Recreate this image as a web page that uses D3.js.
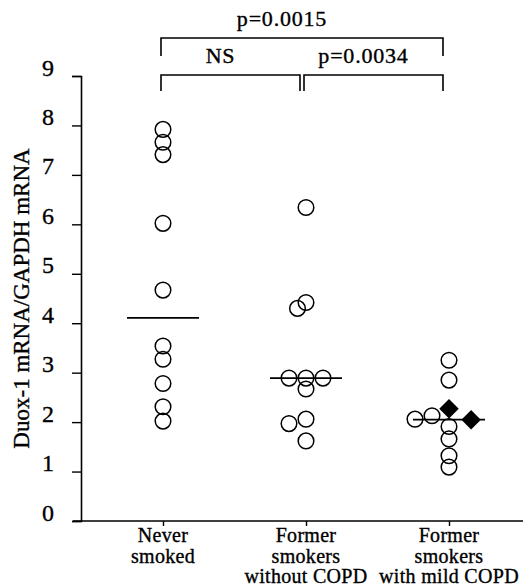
<!DOCTYPE html>
<html>
<head>
<meta charset="utf-8">
<script src="https://cdn.jsdelivr.net/npm/d3@7"></script>
<style>
  body { margin: 0; background: #fff; }
  svg { display: block; }
  svg text { stroke: #000; stroke-width: 0.35px; }
</style>
</head>
<body>
<script>
// groups on the x axis
const groups = ['never', 'formerNoCopd', 'formerCopd']
const groupLabels = [
    ['Never', 'smoked'],
    ['Former', 'smokers', 'without COPD'],
    ['Former', 'smokers', 'with mild COPD']
]

// Duox-1 / GAPDH values (slot = side-by-side column when dots overlap)
const neverValues = [7.92, 7.66, 7.41, 6.02, 4.67, 3.54, 3.27, 2.78, 2.31, 2.02]
const neverSlots = [0, 0, 0, 0, 0, 0, 0, 0, 0, 0]

const formerNoCopdValues = [6.34, 4.42, 4.30, 2.89, 2.89, 2.89, 2.67, 1.97, 2.06, 1.62]
const formerNoCopdSlots = [0, 0, -0.5, -1, 0, 1, 0, -1, 0, 0]

const formerCopdValues = [3.25, 2.85, 2.06, 2.13, 1.91, 1.66, 1.32, 1.09]
const formerCopdSlots = [0, 0, -2, -1, 0, 0, 0, 0]

// filled diamonds in the mild COPD group
const formerCopdFilledValues = [2.27, 2.05]
const formerCopdFilledSlots = [0, 1.3]

const medians = [4.11, 2.89, 2.05]

const yTicks = [0, 1, 2, 3, 4, 5, 6, 7, 8, 9]

const comparisons = [
    {from: 0, to: 2, label: 'p=0.0015', level: 1},
    {from: 0, to: 1, label: 'NS', level: 0},
    {from: 1, to: 2, label: 'p=0.0034', level: 0}
]

const width = 523
const height = 586
const margin = {top: 76, right: 0, bottom: 65, left: 81}
const serif = '"Liberation Serif", "Times New Roman", Times, "DejaVu Serif", serif'

const svg = d3.select('body').append('svg')
    .attr('width', width)
    .attr('height', height)
    .attr('font-family', serif)
    .style('background-color', 'white')

const x = d3.scalePoint()
    .domain(groups)
    .range([163, 449])

const y = d3.scaleLinear()
    .domain([0, 9])
    .range([height - margin.bottom, margin.top])

const slotW = 17

// y axis
const yAxis = svg.append('g')
    .attr('transform', `translate(${margin.left}, 0)`)
    .call(d3.axisLeft(y).tickValues(yTicks).tickSize(9).tickSizeOuter(9).tickPadding(17))
    .attr('font-family', serif)
    .attr('font-size', 24)
yAxis.select('.domain').attr('stroke-width', 1.6)
yAxis.selectAll('.tick line').attr('stroke-width', 1.4)
yAxis.selectAll('.tick text')
    .attr('dy', '-0.04em')
    .attr('letter-spacing', 1)

yAxis.append('text')
    .attr('transform', `translate(${-margin.left + 29}, ${y(4.5)}) rotate(-90)`)
    .attr('text-anchor', 'middle')
    .attr('fill', 'black')
    .attr('font-size', 23)
    .text('Duox-1 mRNA/GAPDH mRNA')

// x axis
svg.append('line')
    .attr('x1', margin.left - 8)
    .attr('x2', width - margin.right)
    .attr('y1', y(0))
    .attr('y2', y(0))
    .attr('stroke', 'black')
    .attr('stroke-width', 1.6)

const xAxis = svg.append('g')
    .attr('transform', `translate(0, ${y(0)})`)
    .call(d3.axisBottom(x).tickSize(5).tickSizeOuter(0).tickFormat(''))
xAxis.select('.domain').remove()
xAxis.selectAll('.tick line').attr('stroke-width', 1.4)

svg.append('g').selectAll('text')
    .data(groups)
    .join('text')
    .attr('text-anchor', 'middle')
    .attr('font-size', 20)
    .attr('letter-spacing', 0.3)
    .each(function(g, i) {
        d3.select(this).selectAll('tspan')
            .data(groupLabels[i])
            .join('tspan')
            .attr('x', x(g))
            .attr('y', (d, j) => y(0) + 21 + j * 20.5)
            .text(d => d)
    })

// medians
svg.append('g').selectAll('line')
    .data(groups)
    .join('line')
    .attr('x1', g => x(g) - 36)
    .attr('x2', g => x(g) + 36)
    .attr('y1', (g, i) => y(medians[i]))
    .attr('y2', (g, i) => y(medians[i]))
    .attr('stroke', 'black')
    .attr('stroke-width', 1.7)

// open circles
const openPoints = [
    ...neverValues.map((v, i) => ({group: 'never', value: v, slot: neverSlots[i]})),
    ...formerNoCopdValues.map((v, i) => ({group: 'formerNoCopd', value: v, slot: formerNoCopdSlots[i]})),
    ...formerCopdValues.map((v, i) => ({group: 'formerCopd', value: v, slot: formerCopdSlots[i]}))
]

svg.append('g').selectAll('circle')
    .data(openPoints)
    .join('circle')
    .attr('cx', d => x(d.group) + d.slot * slotW)
    .attr('cy', d => y(d.value))
    .attr('r', 7.8)
    .attr('fill', 'none')
    .attr('stroke', 'black')
    .attr('stroke-width', 1.5)

// filled diamonds
const filledPoints = formerCopdFilledValues.map((v, i) => ({group: 'formerCopd', value: v, slot: formerCopdFilledSlots[i]}))

svg.append('g').selectAll('path')
    .data(filledPoints)
    .join('path')
    .attr('d', d3.symbol().type(d3.symbolSquare).size(190))
    .attr('transform', d => `translate(${x(d.group) + d.slot * slotW}, ${y(d.value)}) rotate(45)`)
    .attr('fill', 'black')

// significance brackets
const bracket = svg.append('g')
comparisons.forEach(c => {
    const x0 = x(groups[c.from]) - 2
    const x1 = x(groups[c.to]) - 6
    const barY = c.level === 1 ? 38 : 75
    const legY = c.level === 1 ? 56 : 91
    bracket.append('path')
        .attr('d', `M${x0},${legY}V${barY}H${x1}V${legY}`)
        .attr('fill', 'none')
        .attr('stroke', 'black')
        .attr('stroke-width', 1.6)
    bracket.append('text')
        .attr('x', (x0 + x1) / 2 - (c.level === 1 ? 20 : 10))
        .attr('y', barY - 12)
        .attr('text-anchor', 'middle')
        .attr('font-size', 22)
        .attr('letter-spacing', 0.8)
        .text(c.label)
})
</script>
</body>
</html>
